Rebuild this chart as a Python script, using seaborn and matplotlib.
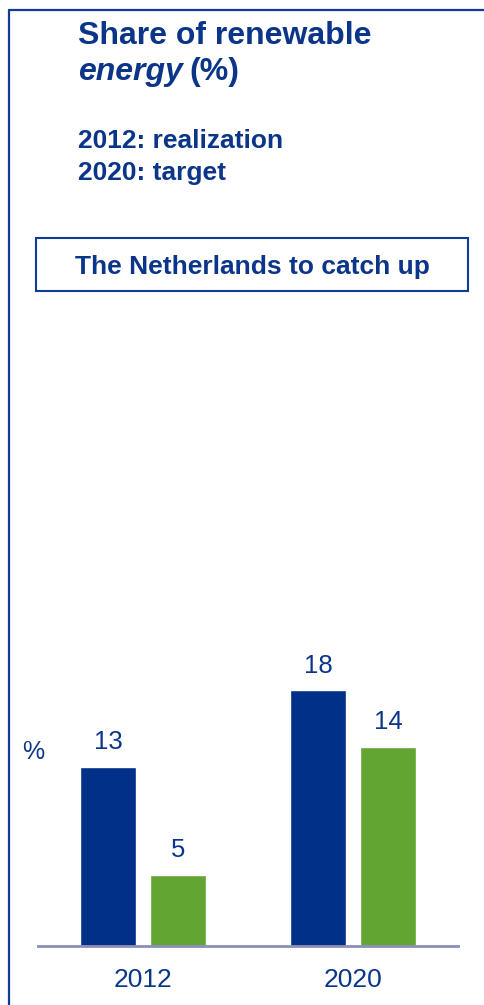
import matplotlib
matplotlib.use("Agg")
import matplotlib.pyplot as plt
import seaborn as sns
import pandas as pd
from matplotlib.patches import Rectangle
from matplotlib.lines import Line2D

# ---- data ----
years = ["2012", "2020"]
series = ["A", "B"]
values_a = [12.6, 18.0]   # blue bars
values_b = [5.0, 14.0]    # green bars
title_line1 = "Share of renewable"
subtitle_lines = ["2012: realization", "2020: target"]
box_text = "The Netherlands to catch up"
unit_label = "%"

BLUE = "#003087"
GREEN = "#62a533"
DARK = "#0a3589"
AXIS = "#8b8fb6"

df = pd.DataFrame({
    "year": years * 2,
    "series": [series[0]] * len(years) + [series[1]] * len(years),
    "value": values_a + values_b,
})

sns.set_theme(style="white")
plt.rcParams["font.family"] = ["Liberation Sans", "DejaVu Sans"]

W, H = 484, 1005
fig = plt.figure(figsize=(W / 100, H / 100), dpi=100)

# axes: x from 38px to 458px, baseline at y=945.7px, 14.2 px per unit
ymax = 20
base_px = 945.7
ppu = 14.2
ax = fig.add_axes([38 / W, (H - base_px) / H, 420 / W, ymax * ppu / H])
sns.barplot(data=df, x="year", y="value", hue="series", order=years,
            hue_order=series, palette=[BLUE, GREEN], width=0.667, gap=0.2,
            saturation=1, legend=False, ax=ax)
ax.set_xlim(-0.5, 1.5)
ax.set_ylim(0, ymax)
for s in ["top", "right", "left"]:
    ax.spines[s].set_visible(False)
ax.spines["bottom"].set_color(AXIS)
ax.spines["bottom"].set_linewidth(2)
ax.set_yticks([])
ax.set_xlabel("")
ax.set_ylabel("")
ax.tick_params(axis="x", length=0, pad=16, labelsize=19, labelcolor=DARK)
ax.set_facecolor("none")

for cont in ax.containers:
    ax.bar_label(cont, labels=[f"{v:.0f}" for v in cont.datavalues],
                 padding=9, fontsize=18.5, color=DARK)

# % label
fig.text(33 / W, 1 - 752 / H, unit_label, fontsize=18, color=DARK,
         ha="center", va="center")

# outer frame lines (top and left)
fig.add_artist(Line2D([8.5 / W, 1], [1 - 10 / H, 1 - 10 / H], color="#0d3d99",
                      lw=1.6, transform=fig.transFigure))
fig.add_artist(Line2D([8.5 / W, 8.5 / W], [0, 1 - 10 / H], color="#0d3d99",
                      lw=1.6, transform=fig.transFigure))

# title
fig.text(78 / W, 1 - 44 / H, title_line1, fontsize=23, fontweight="bold",
         color=DARK, ha="left", va="baseline")
t1 = fig.text(78 / W, 1 - 80 / H, "energy", fontsize=23, fontweight="bold",
              style="italic", color=DARK, ha="left", va="baseline")
fig.canvas.draw()
bb = t1.get_window_extent()
fig.text((bb.x1 + 7) / W, 1 - 80 / H, "(%)", fontsize=23, fontweight="bold",
         color=DARK, ha="left", va="baseline")

# subtitle
fig.text(78 / W, 1 - 148 / H, subtitle_lines[0], fontsize=19, fontweight="bold",
         color=DARK, ha="left", va="baseline")
fig.text(78 / W, 1 - 180 / H, subtitle_lines[1], fontsize=19, fontweight="bold",
         color=DARK, ha="left", va="baseline")

# boxed text
fig.add_artist(Rectangle((36 / W, 1 - 291 / H), 432 / W, 53 / H,
                         transform=fig.transFigure, fill=False,
                         edgecolor="#0d3d99", lw=1.5))
fig.text(252 / W, 1 - 274 / H, box_text, fontsize=19, fontweight="bold",
         color=DARK, ha="center", va="baseline")

fig.savefig("out.png", dpi=100, facecolor="white")
